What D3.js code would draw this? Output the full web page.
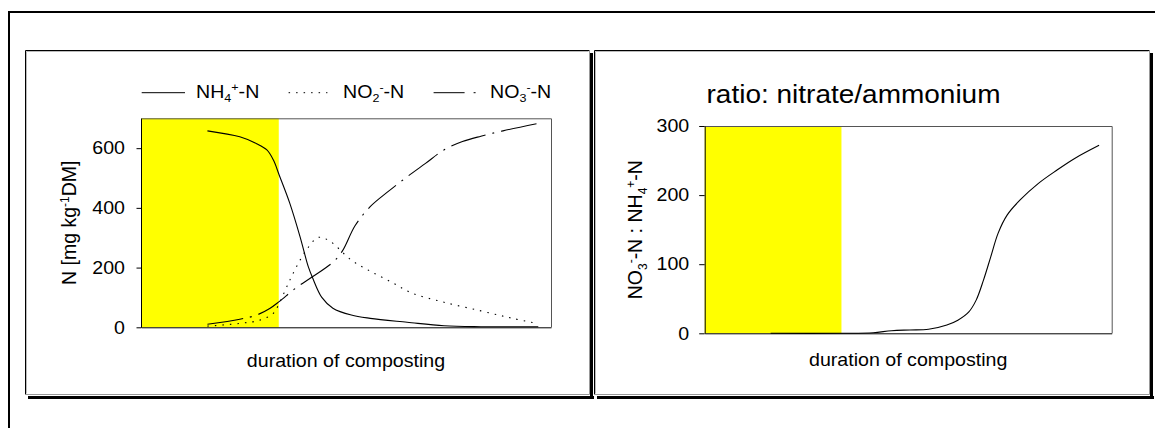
<!DOCTYPE html>
<html><head><meta charset="utf-8">
<script src="https://cdn.jsdelivr.net/npm/d3@7"></script>
<style>
html,body{margin:0;padding:0;background:#fff;}
svg{display:block;font-family:"Liberation Sans",Arial,sans-serif;}
</style></head>
<body>
<svg id="c" width="1155" height="428"></svg>
<script>
// ---- data (x = relative composting time, 0..100) ----
const phaseThermo = [0, 33.6];           // yellow (thermophilic) phase
const nh4 = [[16.2,658],[24.1,638],[28.2,615],[30.7,594],[32.3,560],[33.7,510],[36.3,415],[38.8,303],[40.8,203],[41.9,164],[44.1,100],[46.8,64],[51.3,41],[55.9,30],[64.9,17],[73.9,5],[82.9,2],[96.9,2]];
const no2 = [[16.2,4],[24.1,13],[29,24],[32.3,47],[33.7,80],[36.3,158],[38.8,225],[40.8,268],[43.2,301],[45.9,290],[51.3,225],[55.9,188],[61,152],[66,115],[73.9,84],[82.9,55],[90.3,31],[96.9,12]];
const no3 = [[16.2,10],[24.1,27],[28.2,41],[31.5,64],[33.7,86],[37.8,132],[41.9,170],[46.8,218],[49.1,255],[52.2,340],[55.9,404],[60.4,456],[64.9,504],[69.4,549],[73.9,594],[78.4,622],[82.9,640],[88.3,658],[96.9,683]];
const ratio = [[16.2,0],[34.2,0],[41.4,0.9],[45.9,3.8],[50.4,4.8],[55,5.8],[59.5,12],[62.2,19],[64.9,31],[66.7,48],[68.5,77],[70.3,111],[72.1,145],[74.3,171],[77.5,193],[82,217],[86.5,236],[90.9,253],[96.9,272]];
const ticksLeft = [0,200,400,600];
const ticksRight = [0,100,200,300];
const xLabel = "duration of composting";
const titleRight = "ratio: nitrate/ammonium";

const svg = d3.select("#c");
const SX = 1.09, FS = 18;

function stretch(sel, s){
  sel.each(function(){
    const t = d3.select(this);
    const x = +t.attr("x")||0, y = +t.attr("y")||0;
    t.attr("x",0).attr("y",0).attr("transform",`translate(${x},${y}) scale(${s},1)`);
  });
}

// ---- outer frame ----
svg.append("path").attr("d","M1155,12H9V428").attr("fill","none").attr("stroke","#000").attr("stroke-width",2);

// ---- panels ----
function panel(x0,y0,x1,y1){
  const g = svg.append("g");
  g.append("rect").attr("x",x1+1).attr("y",y0+3).attr("width",3).attr("height",y1-y0+2).attr("fill","#000");
  g.append("rect").attr("x",x0+3).attr("y",y1+2).attr("width",x1-x0+2).attr("height",3).attr("fill","#000");
  g.append("path").attr("d",`M${x0+0.5},${y1+0.5}V${y0+0.5}H${x1+0.5}`).attr("fill","none").attr("stroke","#000");
  g.append("path").attr("d",`M${x0+1.5},${y1-0.5}V${y0+1.5}H${x1-0.5}`).attr("fill","none").attr("stroke","#bbb");
  g.append("path").attr("d",`M${x1+0.5},${y0+0.5}V${y1+0.5}H${x0+0.5}`).attr("fill","none").attr("stroke","#999");
}
panel(25,50,589,394);
panel(594,50,1149,394);

// ---- generic plot ----
function plot(cfg){
  const x = d3.scaleLinear().domain([0,100]).range([cfg.l,cfg.r]);
  const y = d3.scaleLinear().domain(cfg.ydom).range([cfg.b,cfg.t]);
  const g = svg.append("g");
  g.append("rect").attr("x",x(phaseThermo[0])).attr("y",y(cfg.ydom[1]))
    .attr("width",x(phaseThermo[1])-x(phaseThermo[0])).attr("height",y(0)-y(cfg.ydom[1])).attr("fill","#ffff00");
  g.append("path").attr("d",`M${cfg.l},${cfg.t+0.5}H${cfg.r+0.5}V${cfg.b}`).attr("fill","none").attr("stroke","#555");
  const line = d3.line().x(d=>x(d[0])).y(d=>y(d[1])).curve(d3.curveCatmullRom.alpha(0.5));
  cfg.series.forEach(s=>{
    g.append("path").datum(s.data).attr("d",line).attr("fill","none").attr("stroke","#000")
      .attr("stroke-width",1.1).attr("stroke-dasharray",s.dash||null);
  });
  const ya = g.append("g").attr("transform",`translate(${cfg.l},0)`)
    .call(d3.axisLeft(y).tickValues(cfg.ticks).tickFormat(d3.format("d")).tickSize(cfg.tick).tickSizeOuter(0).tickPadding(cfg.pad));
  ya.select(".domain").attr("stroke","#000");
  ya.selectAll("text").attr("font-size",FS).attr("fill","#000");
  stretch(ya.selectAll("text"), SX);
  ya.attr("font-family",null);
  const xa = g.append("g").attr("transform",`translate(0,${cfg.b})`)
    .call(d3.axisBottom(x).tickValues([]).tickSizeOuter(0));
  xa.select(".domain").attr("stroke","#000");
  const xl = g.append("text").attr("x",(cfg.l+cfg.r)/2).attr("y",cfg.xly).attr("text-anchor","middle")
    .attr("font-size",FS).text(xLabel);
  stretch(xl,SX);
  return {x,y,g};
}

plot({l:141,r:551,t:118.3,b:327.3,ydom:[0,700],ticks:ticksLeft,tick:4.5,pad:11.5,xly:366.5,
  series:[{data:nh4},{data:no2,dash:"1.5,6"},{data:no3,dash:"36,7,2,7"}]});
plot({l:704.7,r:1111.7,t:126,b:333.3,ydom:[0,300],ticks:ticksRight,tick:5.5,pad:10,xly:365.5,
  series:[{data:ratio}]});

// ---- y labels (rotated) ----
const yl1 = svg.append("text").attr("transform","translate(76,222.8) rotate(-90)").attr("text-anchor","middle").attr("font-size",19.5);
yl1.append("tspan").text("N [mg kg");
yl1.append("tspan").attr("dy",-7).attr("font-size",12).text("-1");
yl1.append("tspan").attr("dy",7).text("DM]");

const yl2 = svg.append("text").attr("transform","translate(641.5,229.7) rotate(-90)").attr("text-anchor","middle").attr("font-size",19.5);
yl2.append("tspan").text("NO");
yl2.append("tspan").attr("dy",5).attr("font-size",12).text("3");
yl2.append("tspan").attr("dy",-12).attr("font-size",12).text("-");
yl2.append("tspan").attr("dy",7).text("-N : NH");
yl2.append("tspan").attr("dy",5).attr("font-size",12).text("4");
yl2.append("tspan").attr("dy",-12).attr("font-size",12).text("+");
yl2.append("tspan").attr("dy",7).text("-N");

// ---- title ----
const tt = svg.append("text").attr("x",706.5).attr("y",102.7).attr("font-size",25).text(titleRight);
stretch(tt,1.12);

// ---- legend ----
const legend = [
  {x1:141.7,x2:185,tx:196,base:"NH",sub:"4",sup:"+",dash:null},
  {x1:288.6,x2:327.4,tx:343,base:"NO",sub:"2",sup:"-",dash:"1.5,6"},
  {x1:433.6,x2:477.2,tx:490,base:"NO",sub:"3",sup:"-",dash:"31,9,2,9"}
];
legend.forEach(d=>{
  svg.append("line").attr("x1",d.x1).attr("x2",d.x2).attr("y1",92.7).attr("y2",92.7)
    .attr("stroke","#000").attr("stroke-dasharray",d.dash);
  const t = svg.append("text").attr("x",d.tx).attr("y",97.7).attr("font-size",FS);
  t.append("tspan").text(d.base);
  t.append("tspan").attr("dy",4.5).attr("font-size",11.5).text(d.sub);
  t.append("tspan").attr("dy",-11).attr("font-size",11.5).text(d.sup);
  t.append("tspan").attr("dy",6.5).text("-N");
  stretch(t,SX);
});
</script>
</body></html>
